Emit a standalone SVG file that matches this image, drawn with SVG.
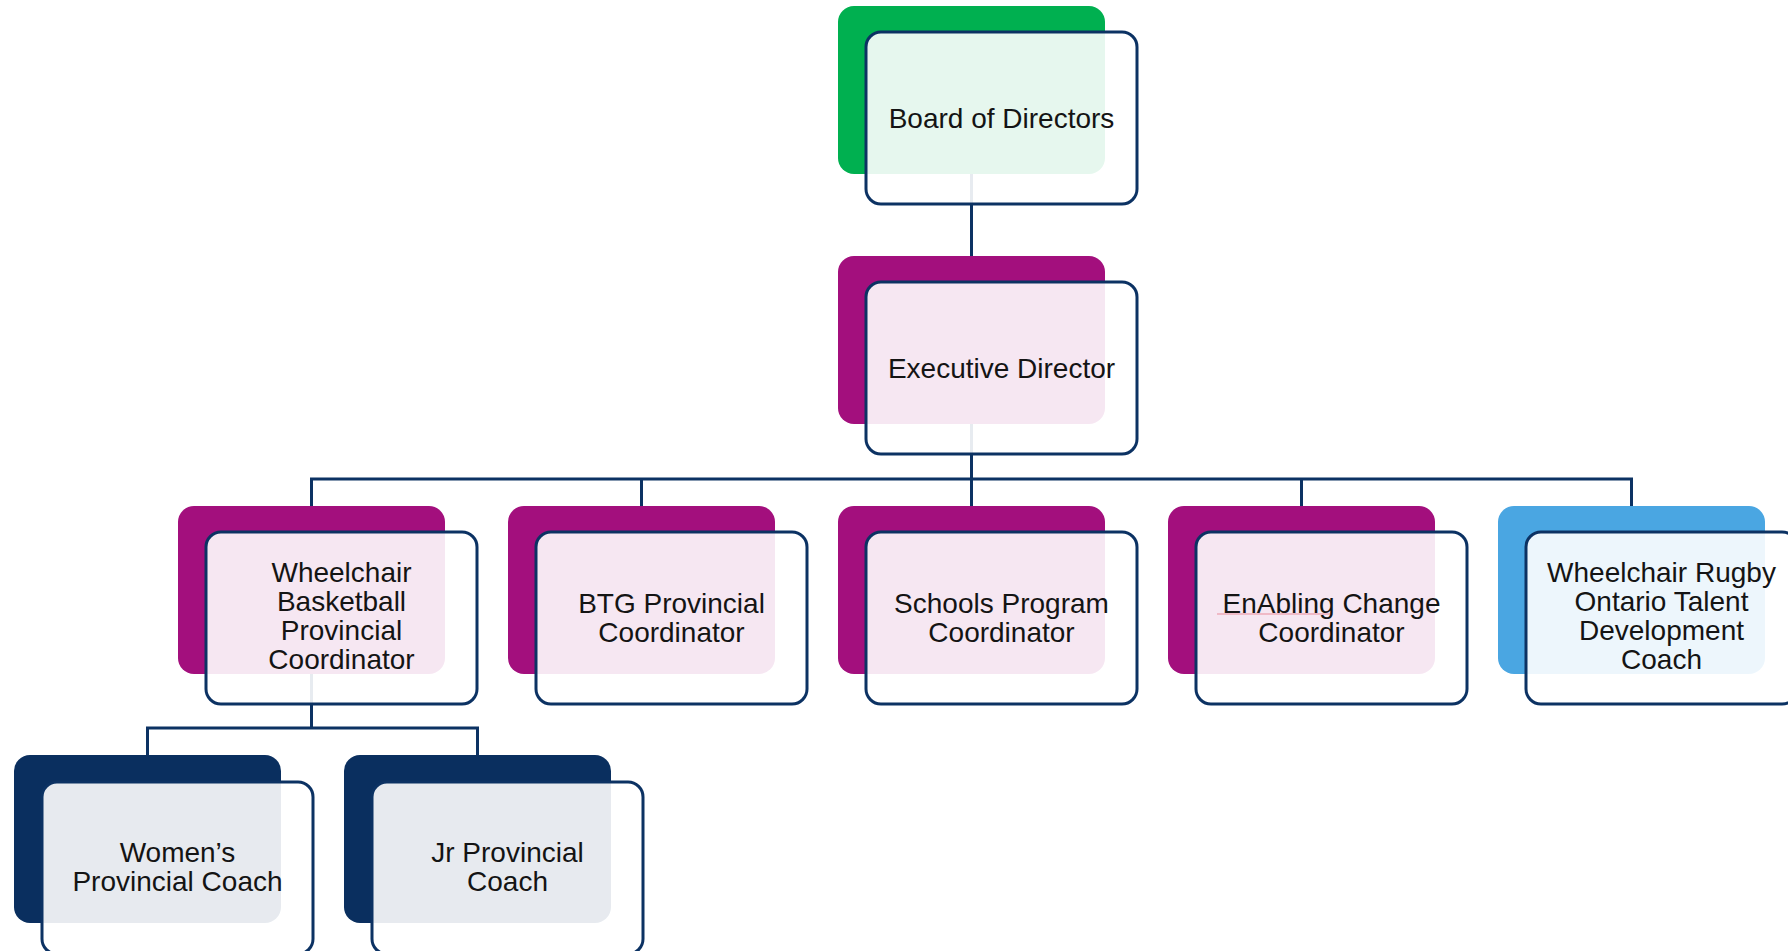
<svg xmlns="http://www.w3.org/2000/svg" width="1788" height="951" viewBox="0 0 1788 951">
<style>
.back{stroke:none}
.front{fill:#ffffff;fill-opacity:0.9;stroke:#0c3263;stroke-width:3}
.conn{fill:none;stroke:#0c3263;stroke-width:3}
text{font-family:"Liberation Sans",Arial,sans-serif;font-size:28px;fill:#141414;text-anchor:middle}
.green{fill:#00b050}.purple{fill:#a30f7d}.blue{fill:#4aa6e2}.navy{fill:#0a2f5f}
</style>
<g id="connectors">
<path class="conn" d="M971.5 174 V256"/>
<path class="conn" d="M971.5 424 V479"/>
<path class="conn" d="M311.5 506 V479 H1631.5 V506"/>
<path class="conn" d="M641.5 479 V506"/>
<path class="conn" d="M971.5 479 V506"/>
<path class="conn" d="M1301.5 479 V506"/>
<path class="conn" d="M311.5 673 V728"/>
<path class="conn" d="M147.5 755 V728 H477.5 V755"/>
</g>
<g id="board">
<rect class="back green" x="838" y="6" width="267" height="168" rx="16"/>
<rect class="front" x="866" y="32" width="271" height="172" rx="15"/>
<text x="1001.5" y="128">Board of Directors</text>
</g>
<g id="executive">
<rect class="back purple" x="838" y="256" width="267" height="168" rx="16"/>
<rect class="front" x="866" y="282" width="271" height="172" rx="15"/>
<text x="1001.5" y="378">Executive Director</text>
</g>
<g id="wbpc">
<rect class="back purple" x="178" y="506" width="267" height="168" rx="16"/>
<rect class="front" x="206" y="532" width="271" height="172" rx="15"/>
<text x="341.5" y="582">Wheelchair</text>
<text x="341.5" y="611">Basketball</text>
<text x="341.5" y="640">Provincial</text>
<text x="341.5" y="669">Coordinator</text>
</g>
<g id="btg">
<rect class="back purple" x="508" y="506" width="267" height="168" rx="16"/>
<rect class="front" x="536" y="532" width="271" height="172" rx="15"/>
<text x="671.5" y="613">BTG Provincial</text>
<text x="671.5" y="642">Coordinator</text>
</g>
<g id="schools">
<rect class="back purple" x="838" y="506" width="267" height="168" rx="16"/>
<rect class="front" x="866" y="532" width="271" height="172" rx="15"/>
<text x="1001.5" y="613">Schools Program</text>
<text x="1001.5" y="642">Coordinator</text>
</g>
<g id="enabling">
<rect class="back purple" x="1168" y="506" width="267" height="168" rx="16"/>
<rect class="front" x="1196" y="532" width="271" height="172" rx="15"/>
<text x="1331.5" y="613">EnAbling Change</text>
<text x="1331.5" y="642">Coordinator</text>
<line x1="1217" y1="614" x2="1330" y2="614" stroke="#e98d9c" stroke-width="1"/>
</g>
<g id="rugby">
<rect class="back blue" x="1498" y="506" width="267" height="168" rx="16"/>
<rect class="front" x="1526" y="532" width="271" height="172" rx="15"/>
<text x="1661.5" y="582">Wheelchair Rugby</text>
<text x="1661.5" y="611">Ontario Talent</text>
<text x="1661.5" y="640">Development</text>
<text x="1661.5" y="669">Coach</text>
</g>
<g id="womens">
<rect class="back navy" x="14" y="755" width="267" height="168" rx="16"/>
<rect class="front" x="42" y="782" width="271" height="172" rx="15"/>
<text x="177.5" y="862">Women’s</text>
<text x="177.5" y="891">Provincial Coach</text>
</g>
<g id="jr">
<rect class="back navy" x="344" y="755" width="267" height="168" rx="16"/>
<rect class="front" x="372" y="782" width="271" height="172" rx="15"/>
<text x="507.5" y="862">Jr Provincial</text>
<text x="507.5" y="891">Coach</text>
</g>
</svg>
